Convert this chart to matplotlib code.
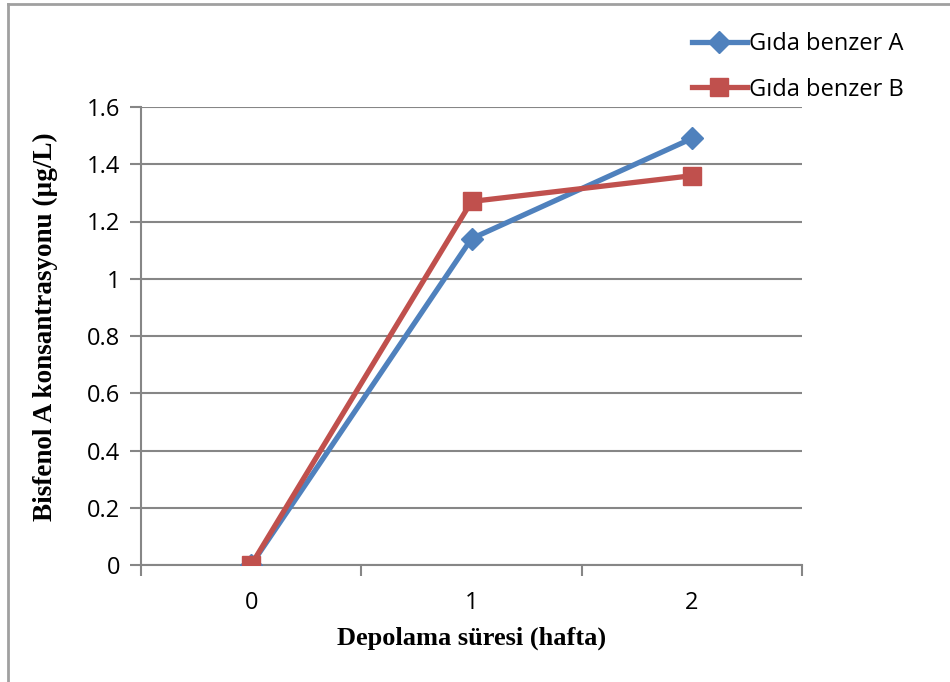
import matplotlib
matplotlib.use("Agg")
import matplotlib.pyplot as plt
from matplotlib.lines import Line2D

weeks = ["0", "1", "2"]
gida_a = [0.0, 1.14, 1.49]
gida_b = [0.0, 1.27, 1.36]
y_ticks = [0, 0.2, 0.4, 0.6, 0.8, 1, 1.2, 1.4, 1.6]
y_labels = ["0", "0.2", "0.4", "0.6", "0.8", "1", "1.2", "1.4", "1.6"]

blue = "#4F81BD"
red = "#C0504D"
gray = "#868686"

fig = plt.figure(figsize=(9.5, 6.82), dpi=100)
ax = fig.add_axes([141 / 950, 117 / 682, 661 / 950, 458 / 682])

x = list(range(len(weeks)))
ax.plot(x, gida_a, color=blue, lw=3.8, marker="D", ms=11, label="Gıda benzer A", zorder=3)
ax.plot(x, gida_b, color=red, lw=3.8, marker="s", ms=13.5, label="Gıda benzer B", zorder=4)

ax.set_xlim(-0.5, 2.5)
ax.set_ylim(0, 1.6)
ax.set_yticks(y_ticks)
ax.set_yticklabels(y_labels)
ax.set_xticks(x)
ax.set_xticklabels(weeks)
# category boundaries get the tick marks, like Excel
ax.set_xticks([-0.5, 0.5, 1.5, 2.5], minor=True)
ax.tick_params(axis="x", which="major", length=0, pad=19)
ax.tick_params(axis="x", which="minor", length=8, width=1.5, color=gray)
ax.tick_params(axis="y", length=8, width=1.5, color=gray, pad=7)
for lab in ax.get_xticklabels() + ax.get_yticklabels():
    lab.set_fontfamily("Open Sans")
    lab.set_fontsize(17)

ax.grid(axis="y", color=gray, lw=1.5)
ax.set_axisbelow(True)
for side in ["top", "right"]:
    ax.spines[side].set_visible(False)
for side in ["left", "bottom"]:
    ax.spines[side].set_color(gray)
    ax.spines[side].set_linewidth(1.5)

ax.set_xlabel("Depolama süresi (hafta)", family="Liberation Serif", weight="bold",
              fontsize=19, va="center")
ax.xaxis.set_label_coords(0.5, -0.159)
ax.set_ylabel("Bisfenol A konsantrasyonu (µg/L)", family="Liberation Serif", weight="bold",
              fontsize=19.5, va="center")
ax.yaxis.set_label_coords(-0.145, 0.52)

leg = fig.legend(loc="upper left", bbox_to_anchor=(671 / 950, 1 - 11 / 682), frameon=False,
                 handlelength=2.3, handletextpad=0.1, labelspacing=0.9,
                 prop={"family": "Open Sans", "size": 17})

# outer chart border (only top and left visible in the crop)
fig.add_artist(Line2D([8 / 950, 8 / 950], [0, 1 - 4 / 682], color="#A0A0A0", lw=2))
fig.add_artist(Line2D([8 / 950, 1], [1 - 4 / 682, 1 - 4 / 682], color="#A0A0A0", lw=2))

fig.savefig("out.png", dpi=100)
